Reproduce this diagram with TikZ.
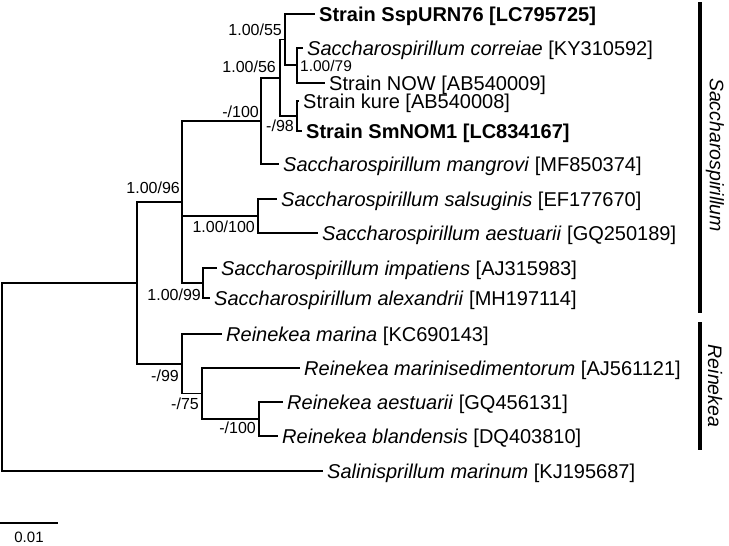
\documentclass[tikz,border=0pt]{standalone}
\usepackage{fontspec}
\setmainfont{Liberation Sans}
\begin{document}
\begin{tikzpicture}[x=1pt,y=-1pt,
  br/.style={line width=1.5pt},
  leaf/.style={anchor=base west, inner sep=0pt, xshift=4pt, yshift=-7.1pt, font=\fontsize{20}{22}\selectfont},
  sup/.style={anchor=base east, inner sep=0pt, yshift=-5.7pt, font=\fontsize{16}{18}\selectfont},
  supl/.style={anchor=base west, inner sep=0pt, yshift=-5.7pt, font=\fontsize{16}{18}\selectfont},
  cladebar/.style={line width=3.5pt},
  cladelab/.style={rotate=-90, inner sep=0pt, font=\fontsize{19.5}{22}\selectfont\itshape}]
\useasboundingbox (0,0) rectangle (729,546);
% internal nodes
\coordinate (root) at (2,377);
\coordinate (N1) at (137,283);
\coordinate (H) at (182,202);
\coordinate (E) at (261,121);
\coordinate (D) at (280,78);
\coordinate (A) at (285,39.5);
\coordinate (B) at (297,65);
\coordinate (C) at (297,116);
\coordinate (F) at (258,216);
\coordinate (G) at (203,283);
\coordinate (R) at (182,364);
\coordinate (R75) at (202,393.5);
\coordinate (RA) at (259,419);
% leaf ends
\coordinate (l1) at (315,14);
\coordinate (l2) at (303,48);
\coordinate (l3) at (325,83);
\coordinate (l4) at (299,101);
\coordinate (l5) at (302,131);
\coordinate (l6) at (279,164);
\coordinate (l7) at (277,199);
\coordinate (l8) at (318,233);
\coordinate (l9) at (217,268);
\coordinate (l10) at (210,298);
\coordinate (l11) at (222,334);
\coordinate (l12) at (300,368);
\coordinate (l13) at (283,402);
\coordinate (l14) at (278,436);
\coordinate (l15) at (323,471);
% branches
\draw[br] (root) |- (N1);
\draw[br] (root) |- (l15);
\draw[br] (N1) |- (H);
\draw[br] (N1) |- (R);
\draw[br] (H) |- (E);
\draw[br] (H) |- (F);
\draw[br] (H) |- (G);
\draw[br] (E) |- (D);
\draw[br] (E) |- (l6);
\draw[br] (D) |- (A);
\draw[br] (D) |- (C);
\draw[br] (A) |- (l1);
\draw[br] (A) |- (B);
\draw[br] (B) |- (l2);
\draw[br] (B) |- (l3);
\draw[br] (C) |- (l4);
\draw[br] (C) |- (l5);
\draw[br] (F) |- (l7);
\draw[br] (F) |- (l8);
\draw[br] (G) |- (l9);
\draw[br] (G) |- (l10);
\draw[br] (R) |- (l11);
\draw[br] (R) |- (R75);
\draw[br] (R75) |- (l12);
\draw[br] (R75) |- (RA);
\draw[br] (RA) |- (l13);
\draw[br] (RA) |- (l14);
% leaf labels
\node[leaf] (t1) at (l1) {\textbf{Strain SspURN76 [LC795725]}};
\node[leaf] (t2) at (l2) {\textit{Saccharospirillum correiae} [KY310592]};
\node[leaf] (t3) at (l3) {Strain NOW [AB540009]};
\node[leaf] (t4) at (l4) {Strain kure [AB540008]};
\node[leaf] (t5) at (l5) {\textbf{Strain SmNOM1 [LC834167]}};
\node[leaf] (t6) at (l6) {\textit{Saccharospirillum mangrovi} [MF850374]};
\node[leaf] (t7) at (l7) {\textit{Saccharospirillum salsuginis} [EF177670]};
\node[leaf] (t8) at (l8) {\textit{Saccharospirillum aestuarii} [GQ250189]};
\node[leaf] (t9) at (l9) {\textit{Saccharospirillum impatiens} [AJ315983]};
\node[leaf] (t10) at (l10) {\textit{Saccharospirillum alexandrii} [MH197114]};
\node[leaf] (t11) at (l11) {\textit{Reinekea marina} [KC690143]};
\node[leaf] (t12) at (l12) {\textit{Reinekea marinisedimentorum} [AJ561121]};
\node[leaf] (t13) at (l13) {\textit{Reinekea aestuarii} [GQ456131]};
\node[leaf] (t14) at (l14) {\textit{Reinekea blandensis} [DQ403810]};
\node[leaf] (t15) at (l15) {\textit{Salinisprillum marinum} [KJ195687]};
% support values
\node[sup] (sA) at (282,30) {1.00/55};
\node[sup] (sD) at (276,67) {1.00/56};
\node[supl, font=\fontsize{15.5}{17}\selectfont] (sB) at (300,66) {1.00/79};
\node[sup] (sC) at (294,126) {-/98};
\node[sup] (sE) at (259,112) {-/100};
\node[sup] (sH) at (180,188) {1.00/96};
\node[sup] (sF) at (255,227) {1.00/100};
\node[sup] (sG) at (201,295) {1.00/99};
\node[sup] (sR) at (179,376) {-/99};
\node[sup] (sR75) at (199,404) {-/75};
\node[sup] (sRA) at (256,428) {-/100};
% clade bars
\coordinate (c1a) at (700,2);
\coordinate (c1b) at (700,313);
\coordinate (c2a) at (700,322);
\coordinate (c2b) at (700,450);
\draw[cladebar] (c1a) -- (c1b);
\draw[cladebar] (c2a) -- (c2b);
\node[cladelab] (cl1) at (715,155) {Saccharospirillum};
\node[cladelab] (cl2) at (715,386) {Reinekea};
% scale bar
\coordinate (sb1) at (0,523);
\coordinate (sb2) at (58,523);
\draw[br] (sb1) -- (sb2);
\node[inner sep=0pt, font=\fontsize{15}{17}\selectfont] (sbl) at (29,537) {0.01};
\end{tikzpicture}
\end{document}
